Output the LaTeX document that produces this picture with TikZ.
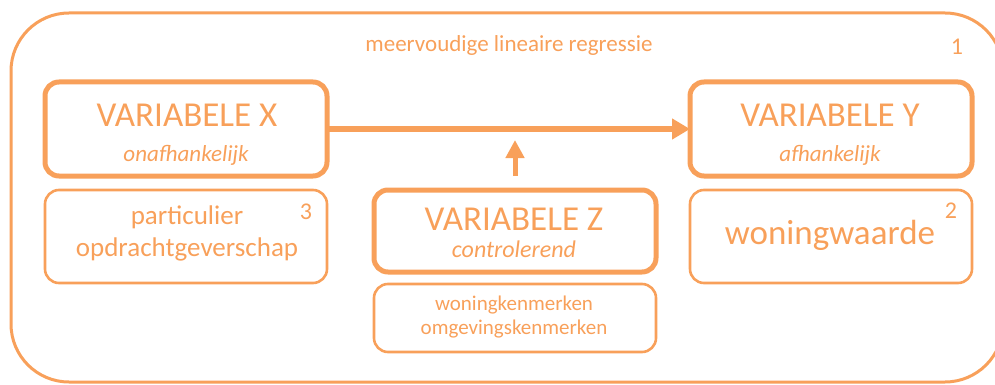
\documentclass[tikz,border=0pt]{standalone}
\usepackage{fontspec}
\setmainfont{Carlito}
\usetikzlibrary{arrows.meta}
\definecolor{org}{HTML}{F8A05A}
\begin{document}
\begin{tikzpicture}[x=1pt,y=-1pt,
  thickbox/.style={draw=org,line width=5pt,rounded corners=14pt},
  thinbox/.style={draw=org,line width=2.6pt,rounded corners=14pt},
  txt/.style={text=org,inner sep=0pt,anchor=center},
  conn/.style={draw=org,line width=5pt,-{Triangle[length=18pt,width=20pt]}}]
\clip (0,0) rectangle (995,385);
\useasboundingbox (0,0) rectangle (995,385);
\draw[draw=org,line width=3pt,rounded corners=58pt] (11,13) rectangle (1003,382);
\node[txt,font=\fontsize{23}{26}\selectfont] (title) at (509,45) {meervoudige lineaire regressie};
\node[txt,font=\fontsize{24}{26}\selectfont] (n1) at (957,47) {1};
% boxes
\draw[thickbox] (45,82) rectangle (327,176);
\coordinate (bxr) at (327,129);
\node[txt,font=\fontsize{35}{40}\selectfont] (tx) at (187,115) {VARIABELE X};
\node[txt,font=\fontsize{23}{26}\selectfont\itshape] (sx) at (186,155) {onafhankelijk};
\draw[thickbox] (690,82) rectangle (972,176);
\coordinate (byl) at (690,129);
\node[txt,font=\fontsize{35}{40}\selectfont] (ty) at (830,115) {VARIABELE Y};
\node[txt,font=\fontsize{23}{26}\selectfont\itshape] (sy) at (830,155) {afhankelijk};
\draw[thinbox] (45,190) rectangle (327,283);
\node[txt,font=\fontsize{27}{30}\selectfont] (p1) at (187,217) {particulier};
\node[txt,font=\fontsize{27}{30}\selectfont] (p2) at (187,249) {opdrachtgeverschap};
\node[txt,font=\fontsize{24}{26}\selectfont] (n3) at (306,212) {3};
\draw[thickbox] (374,190) rectangle (656,272);
\coordinate (bzt) at (515,190);
\node[txt,font=\fontsize{35}{40}\selectfont] (tz) at (514,219) {VARIABELE Z};
\node[txt,font=\fontsize{24}{26}\selectfont\itshape] (sz) at (514,249) {controlerend};
\draw[thinbox] (374,284) rectangle (656,352);
\node[txt,font=\fontsize{21}{24}\selectfont] (k1) at (514,305) {woningkenmerken};
\node[txt,font=\fontsize{21}{24}\selectfont] (k2) at (514,329) {omgevingskenmerken};
\draw[thinbox] (690,190) rectangle (972,283);
\node[txt,font=\fontsize{35}{40}\selectfont] (ww) at (830,235) {woningwaarde};
\node[txt,font=\fontsize{24}{26}\selectfont] (n2) at (951,211) {2};
% connectors
\coordinate (zt) at (515,176);
\coordinate (zh) at (515,140);
\draw[conn] (bxr) -- (byl);
\draw[conn,-{Triangle[length=18pt,width=18pt]}] (zt) -- (zh);
\end{tikzpicture}
\end{document}
